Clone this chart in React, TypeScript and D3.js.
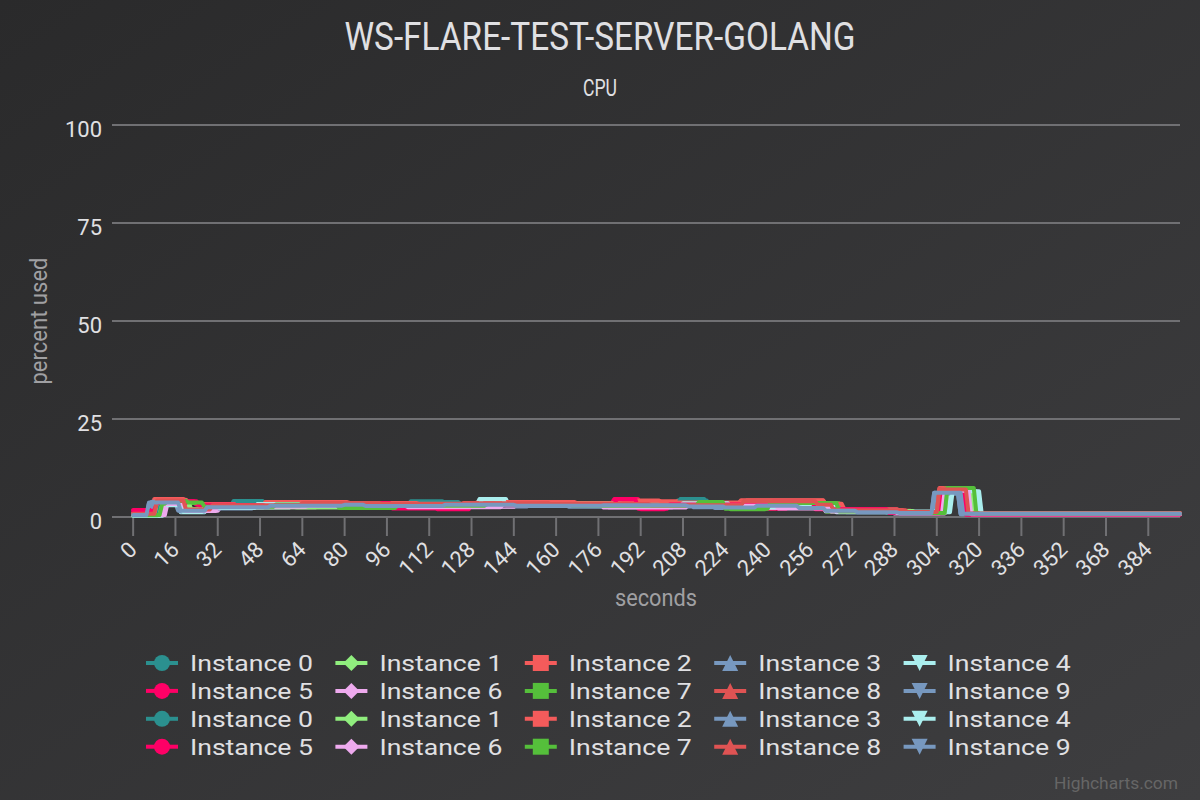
import React from 'react';
import * as d3 from 'd3';

const chartTitle = "WS-FLARE-TEST-SERVER-GOLANG";
const chartSubtitle = "CPU";
const yAxisTitle = "percent used";
const xAxisTitle = "seconds";

const xTicks = [0, 16, 32, 48, 64, 80, 96, 112, 128, 144, 160, 176, 192, 208, 224, 240, 256, 272, 288, 304, 320, 336, 352, 368, 384];
const yTicks = [0, 25, 50, 75, 100];

const instanceNames = [
  "Instance 0", "Instance 1", "Instance 2", "Instance 3", "Instance 4",
  "Instance 5", "Instance 6", "Instance 7", "Instance 8", "Instance 9",
  "Instance 0", "Instance 1", "Instance 2", "Instance 3", "Instance 4",
  "Instance 5", "Instance 6", "Instance 7", "Instance 8", "Instance 9"
];

const palette = ["#2b908f", "#90ee7e", "#f45b5b", "#7798BF", "#aaeeee", "#ff0066", "#eeaaee", "#55BF3B", "#DF5353", "#7798BF"];
const markerSymbols = ["circle", "diamond", "square", "triangle", "triangle-down"];

// each series: [second where the reading changes, cpu %]
const cpu0a = [[0,0.6],[9,4.2],[19,1.6],[27,2.8],[38,4.1],[48,3.2],[70,3.6],[95,3.4],[112,3.8],[124,3.3],[150,3.6],[176,3.2],[206,4.2],[218,3.2],[236,2.8],[256,3.2],[266,1.6],[285,1.1],[305,6.6],[315,0.9],[396,0.9]];
const cpu1a = [[0,0.4],[11,3.9],[21,1.9],[30,2.6],[52,3.1],[80,2.5],[105,3.0],[140,3.4],[170,3.0],[200,3.3],[232,2.2],[244,2.8],[262,1.4],[290,1.0],[307,6.4],[317,0.8],[396,0.8]];
const cpu2a = [[0,1.0],[8,4.6],[20,3.6],[24,3.3],[45,3.7],[70,3.5],[100,3.3],[130,3.7],[165,3.6],[190,4.0],[215,3.5],[230,4.3],[262,3.2],[268,1.8],[292,1.2],[305,7.4],[316,0.9],[396,0.9]];
const cpu3a = [[0,0.5],[7,3.9],[18,1.5],[29,2.4],[50,2.9],[78,3.3],[90,2.9],[120,2.7],[150,3.0],[185,2.6],[210,3.2],[222,2.4],[240,2.9],[265,1.5],[288,1.0],[304,6.0],[313,0.7],[396,0.7]];
const cpu4a = [[0,0.3],[12,3.2],[18,1.2],[28,2.4],[60,2.9],[100,3.1],[131,4.6],[142,3.2],[175,2.8],[205,3.4],[228,2.7],[250,3.0],[266,1.2],[292,1.4],[309,6.5],[320,0.8],[396,0.8]];
const cpu5a = [[0,1.8],[10,3.9],[20,4.0],[24,3.1],[55,2.6],[85,3.4],[115,2.0],[128,3.5],[182,4.6],[192,2.0],[202,3.3],[236,2.1],[248,3.0],[262,1.9],[290,0.9],[306,6.8],[316,0.7],[396,0.7]];
const cpu6a = [[0,0.5],[13,3.5],[19,1.6],[33,2.5],[70,2.9],[110,2.6],[145,3.1],[180,2.5],[205,3.0],[240,2.3],[262,1.5],[288,0.9],[308,6.9],[318,0.7],[396,0.7]];
const cpu7a = [[0,0.4],[10,3.2],[14,4.0],[22,3.6],[26,2.8],[48,3.3],[80,2.4],[96,3.0],[130,3.4],[160,3.0],[212,3.6],[226,2.0],[240,3.5],[268,1.3],[292,1.1],[307,7.3],[318,0.8],[396,0.8]];
const cpu8a = [[0,0.7],[8,2.5],[10,4.3],[19,1.7],[31,2.9],[60,3.5],[90,3.2],[125,3.6],[160,3.4],[195,3.2],[230,3.9],[260,3.0],[266,1.6],[295,1.2],[305,7.2],[317,0.9],[396,0.9]];
const cpu9a = [[0,0.4],[6,3.6],[17,1.6],[29,2.7],[55,3.1],[82,2.8],[110,3.2],[140,2.9],[178,3.1],[212,2.5],[228,2.7],[258,2.2],[270,1.2],[290,0.9],[303,6.2],[313,0.8],[396,0.8]];
const cpu0b = [[0,0.8],[10,4.0],[18,1.8],[30,3.0],[40,4.1],[50,3.0],[75,3.3],[105,4.0],[118,3.1],[150,3.4],[185,3.0],[207,4.6],[217,3.3],[245,3.2],[264,1.8],[286,1.0],[306,6.3],[316,0.8],[396,0.8]];
const cpu1b = [[0,0.6],[9,3.7],[22,2.0],[28,2.5],[62,2.4],[90,2.6],[125,3.2],[155,3.5],[190,3.1],[225,3.4],[245,2.6],[265,1.5],[296,1.0],[308,7.0],[318,0.9],[396,0.9]];
const cpu2b = [[0,0.9],[9,4.4],[21,3.8],[25,3.0],[50,3.8],[82,3.6],[108,3.4],[138,3.8],[168,3.5],[186,4.2],[200,3.7],[232,4.2],[262,3.4],[269,2.0],[290,1.3],[306,7.1],[315,1.0],[396,1.0]];
const cpu3b = [[0,0.6],[8,3.8],[18,1.4],[28,2.2],[46,2.8],[76,3.2],[100,2.8],[135,2.9],[165,2.6],[198,2.8],[220,2.3],[238,2.6],[262,1.6],[290,1.1],[305,6.0],[314,0.8],[396,0.8]];
const cpu4b = [[0,0.4],[11,3.0],[19,1.3],[27,2.3],[47,3.3],[86,3.0],[132,4.5],[141,3.0],[172,2.9],[208,3.5],[226,2.5],[254,2.8],[267,1.3],[294,1.2],[310,6.6],[321,0.8],[396,0.8]];
const cpu5b = [[0,1.6],[9,3.6],[21,4.0],[25,3.0],[50,2.8],[72,3.5],[98,2.2],[116,3.0],[150,3.3],[183,4.5],[191,2.1],[203,3.2],[242,3.9],[258,2.0],[286,1.0],[306,6.5],[315,0.6],[396,0.6]];
const cpu6b = [[0,0.5],[12,3.3],[20,1.5],[32,2.6],[66,2.8],[104,2.5],[140,3.2],[178,2.4],[210,2.9],[244,2.2],[264,1.4],[289,1.0],[307,6.7],[317,0.7],[396,0.7]];
const cpu7b = [[0,0.5],[11,3.4],[13,4.1],[21,3.7],[27,2.6],[54,3.2],[78,2.3],[100,2.9],[134,3.3],[166,2.9],[214,3.8],[224,2.1],[241,3.6],[267,1.4],[293,1.0],[308,7.4],[319,0.8],[396,0.8]];
const cpu8b = [[0,0.8],[9,4.2],[20,1.9],[30,3.0],[64,3.6],[94,3.3],[128,3.5],[158,3.3],[196,3.0],[231,4.0],[259,3.1],[265,1.7],[293,1.3],[305,7.0],[316,0.9],[396,0.9]];
const cpu9b = [[0,0.5],[6,3.7],[18,1.6],[28,2.5],[52,2.9],[80,3.1],[88,2.8],[118,3.1],[145,2.9],[178,3.0],[210,2.7],[224,2.4],[236,2.9],[252,2.3],[262,1.6],[274,1.2],[290,1.0],[303,6.2],[314,0.8],[396,0.8]];

const seriesSegments = [cpu0a, cpu1a, cpu2a, cpu3a, cpu4a, cpu5a, cpu6a, cpu7a, cpu8a, cpu9a,
  cpu0b, cpu1b, cpu2b, cpu3b, cpu4b, cpu5b, cpu6b, cpu7b, cpu8b, cpu9b];

const width = 1200;
const height = 800;
const plotLeft = 112;
const plotRight = 1180;
const plotTop = 125;
const plotBottom = 517;
const font = "Roboto, 'DejaVu Sans', sans-serif";

// readings are held until the next change, one second per sample
const toVertices = (segs) => {
  const pts = [];
  segs.forEach((s, i) => {
    pts.push(s);
    const next = segs[i + 1];
    if (next && next[0] - 1 > s[0]) pts.push([next[0] - 1, s[1]]);
  });
  return pts;
};

const markerPath = (type, r) => {
  const p = d3.path();
  if (type === "circle") {
    p.arc(0, 0, r, 0, 2 * Math.PI);
  } else if (type === "diamond") {
    p.moveTo(0, -r); p.lineTo(r, 0); p.lineTo(0, r); p.lineTo(-r, 0);
  } else if (type === "square") {
    p.rect(-r, -r, 2 * r, 2 * r);
  } else if (type === "triangle") {
    p.moveTo(0, -r); p.lineTo(r, r); p.lineTo(-r, r);
  } else {
    p.moveTo(-r, -r); p.lineTo(r, -r); p.lineTo(0, r);
  }
  p.closePath();
  return p.toString();
};

export default function App() {
  const x = d3.scaleLinear().domain([-8, 396]).range([plotLeft, plotRight]);
  const y = d3.scaleLinear().domain([0, 100]).range([plotBottom, plotTop]);
  const line = d3.line().x(d => x(d[0])).y(d => y(d[1]));

  return (
    <>
      <style>{`body{margin:0}`}</style>
      <svg width={width} height={height} style={{ display: "block", fontFamily: font }}>
        <defs>
          <linearGradient id="bg" x1="0" y1="0" x2="1" y2="1">
            <stop offset="0" stopColor="#2a2a2b" />
            <stop offset="1" stopColor="#3e3e40" />
          </linearGradient>
        </defs>
        <rect width={width} height={height} fill="url(#bg)" />

        <text x={600} y={50} textAnchor="middle" fill="#E0E0E3" fontSize={39}
          textLength={511} lengthAdjust="spacingAndGlyphs">{chartTitle}</text>
        <text x={600} y={96} textAnchor="middle" fill="#E0E0E3" fontSize={23}
          textLength={34} lengthAdjust="spacingAndGlyphs">{chartSubtitle}</text>

        {yTicks.map(t => (
          <g key={t}>
            <line x1={plotLeft} x2={plotRight} y1={y(t)} y2={y(t)} stroke="#707073" strokeWidth={2} />
            <text x={102} y={y(t) + 11.5} textAnchor="end" fill="#E0E0E3" fontSize={22}>{t}</text>
          </g>
        ))}

        <line x1={plotLeft} x2={plotRight} y1={plotBottom} y2={plotBottom} stroke="#707073" strokeWidth={2} />
        {xTicks.map(t => (
          <g key={t}>
            <line x1={x(t)} x2={x(t)} y1={plotBottom} y2={plotBottom + 19} stroke="#707073" strokeWidth={2} />
            <text transform={`translate(${x(t) + 5},${plotBottom + 34}) rotate(-45)`} textAnchor="end"
              fill="#E0E0E3" fontSize={22}>{t}</text>
          </g>
        ))}

        <text transform={`translate(47,${(plotTop + plotBottom) / 2}) rotate(-90)`} textAnchor="middle"
          fill="#A0A0A3" fontSize={24} textLength={127} lengthAdjust="spacingAndGlyphs">{yAxisTitle}</text>
        <text x={656} y={606} textAnchor="middle" fill="#A0A0A3" fontSize={24}
          textLength={82} lengthAdjust="spacingAndGlyphs">{xAxisTitle}</text>

        <g fill="none" strokeWidth={4} strokeLinejoin="round" strokeLinecap="round">
          {seriesSegments.map((segs, i) => (
            <path key={i} d={line(toVertices(segs))} stroke={palette[i % 10]} />
          ))}
        </g>

        {instanceNames.map((name, i) => {
          const col = i % 5;
          const row = Math.floor(i / 5);
          const lx = 146 + col * 189.4;
          const ly = 663 + row * 27.9;
          const color = palette[i % 10];
          return (
            <g key={i} transform={`translate(${lx},${ly})`}>
              <line x1={0} x2={32} y1={0} y2={0} stroke={color} strokeWidth={4} />
              <path d={markerPath(markerSymbols[i % 5], 8)} transform="translate(16,0)" fill={color} />
              <text x={44} y={8} fill="#E0E0E3" fontSize={22}
                textLength={123} lengthAdjust="spacingAndGlyphs">{name}</text>
            </g>
          );
        })}

        <text x={1178} y={789} textAnchor="end" fill="#666" fontSize={16}
          textLength={124} lengthAdjust="spacingAndGlyphs">Highcharts.com</text>
      </svg>
    </>
  );
}
